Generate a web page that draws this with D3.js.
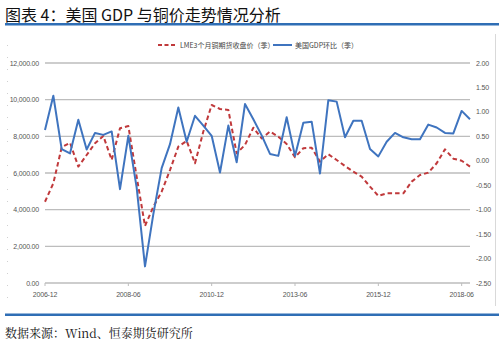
<!DOCTYPE html>
<html>
<head>
<meta charset="utf-8">
<script src="https://cdn.jsdelivr.net/npm/d3@7"></script>
<style>
html,body{margin:0;padding:0;background:#fff;}
svg{display:block;}
</style>
</head>
<body>
<svg id="chart" width="502" height="345"></svg>
<script>
// ---- data ----
const xTickLabels = ["2006-12","2008-06","2010-12","2013-06","2015-12","2018-06"];
const xTickIndex = [0,10,20,30,40,50];
const copperPrice = [4430,5440,7400,7650,6350,6980,7620,8020,6710,8440,8560,5800,3110,4160,4980,6160,
  7440,7750,6530,8260,9710,9490,9440,7070,7530,8470,7890,8260,7980,7580,6860,7350,7380,6620,7020,6710,
  6380,6070,5800,5260,4750,4890,4890,4890,5530,5890,6020,6530,7290,6780,6670,6350];
const usGdpQoQ = [0.63,1.33,0.24,0.15,0.84,0.23,0.57,0.53,0.60,-0.58,0.51,-0.55,-2.16,-1.09,-0.15,0.34,
  1.09,0.39,0.92,0.72,0.51,-0.24,0.72,-0.03,1.16,0.85,0.52,0.14,0.10,0.89,0.10,0.78,0.80,-0.26,1.24,1.21,
  0.48,0.82,0.82,0.24,0.09,0.39,0.57,0.48,0.44,0.44,0.74,0.68,0.57,0.56,1.02,0.85];
const leftTicks = [0,2000,4000,6000,8000,10000,12000];
const rightTicks = [2,1.5,1,0.5,0,-0.5,-1,-1.5,-2,-2.5];
const legendNames = ["LME3个月铜期货收盘价（季）","美国GDP环比（季）"];
const titleText = "图表 4：美国 GDP 与铜价走势情况分析";
const sourceText = "数据来源：Wind、恒泰期货研究所";

// ---- drawing ----
(function(){
const svg = d3.select("#chart");
const pLeft = 45, pRight = 470, pTop = 63, pBottom = 283;
const x = d3.scaleLinear().domain([0, copperPrice.length - 1]).range([pLeft, pRight]);
const yL = d3.scaleLinear().domain([0, 12000]).range([pBottom, pTop]);
const yR = d3.scaleLinear().domain([-2.5, 2]).range([pBottom, pTop]);
const axisFont = "Liberation Sans, Arial, sans-serif";
const red = "#C0393B", blue = "#3F74BF";

// title
svg.append("text").attr("x", 5).attr("y", 21)
  .attr("font-family", "Noto Sans CJK SC, sans-serif").attr("font-size", 16)
  .attr("fill", "#111").attr("xml:space", "preserve").style("white-space", "pre").text(titleText);
svg.append("rect").attr("x", 5).attr("y", 23).attr("width", 494).attr("height", 2.5).attr("fill", "#2F6EB5");

// frame lines
svg.append("line").attr("x1", 495.5).attr("x2", 495.5).attr("y1", 34).attr("y2", 306)
  .attr("stroke", "#d9d9d9").attr("stroke-width", 1);
svg.append("line").attr("x1", 7.5).attr("x2", 7.5).attr("y1", 45).attr("y2", 306)
  .attr("stroke", "#d0d0d0").attr("stroke-width", 1).attr("stroke-dasharray", "1,11");

// gridlines
svg.append("g").selectAll("line").data(leftTicks).join("line")
  .attr("x1", pLeft).attr("x2", pRight)
  .attr("y1", d => yL(d)).attr("y2", d => yL(d))
  .attr("stroke", "#BDBDBD").attr("stroke-width", 1.3);

// left axis labels
const fmtL = d3.format(",.2f");
svg.append("g").selectAll("text").data(leftTicks).join("text")
  .attr("x", 39).attr("y", d => yL(d) + 2.5).attr("text-anchor", "end")
  .attr("font-family", axisFont).attr("font-size", 7).attr("fill", "#555")
  .attr("letter-spacing", -0.2)
  .text(d => fmtL(d));

// right axis labels
const fmtR = d3.formatLocale({decimal: ".", thousands: ",", grouping: [3], currency: ["", ""], minus: "-"}).format(".2f");
svg.append("g").selectAll("text").data(rightTicks).join("text")
  .attr("x", 476).attr("y", d => yR(d) + 2.5).attr("text-anchor", "start")
  .attr("font-family", axisFont).attr("font-size", 7).attr("fill", "#555")
  .attr("letter-spacing", -0.2)
  .text(d => fmtR(d));

// x axis ticks & labels
svg.append("g").selectAll("line").data(xTickIndex).join("line")
  .attr("x1", d => x(d)).attr("x2", d => x(d))
  .attr("y1", pBottom).attr("y2", pBottom + 3)
  .attr("stroke", "#BDBDBD").attr("stroke-width", 1);
svg.append("g").selectAll("text").data(xTickIndex).join("text")
  .attr("x", d => x(d)).attr("y", pBottom + 14).attr("text-anchor", "middle")
  .attr("font-family", axisFont).attr("font-size", 7).attr("fill", "#555")
  .attr("letter-spacing", -0.2)
  .text((d, i) => xTickLabels[i]);

// lines
const lineL = d3.line().x((d, i) => x(i)).y(d => yL(d));
const lineR = d3.line().x((d, i) => x(i)).y(d => yR(d));
svg.append("path").datum(copperPrice).attr("d", lineL)
  .attr("fill", "none").attr("stroke", red).attr("stroke-width", 2)
  .attr("stroke-dasharray", "4.5,3").attr("stroke-linejoin", "round");
svg.append("path").datum(usGdpQoQ).attr("d", lineR)
  .attr("fill", "none").attr("stroke", blue).attr("stroke-width", 2)
  .attr("stroke-linejoin", "round");

// legend
const lg = svg.append("g").attr("font-family", "Noto Sans CJK SC, sans-serif").attr("font-size", 7).attr("fill", "#444");
lg.append("line").attr("x1", 158).attr("x2", 177).attr("y1", 45).attr("y2", 45)
  .attr("stroke", red).attr("stroke-width", 2).attr("stroke-dasharray", "4,2.5");
lg.append("text").attr("x", 180).attr("y", 47.5).text(legendNames[0]);
lg.append("line").attr("x1", 273).attr("x2", 292).attr("y1", 45).attr("y2", 45)
  .attr("stroke", blue).attr("stroke-width", 2);
lg.append("text").attr("x", 295).attr("y", 47.5).text(legendNames[1]);

// bottom rule & source
svg.append("rect").attr("x", 5).attr("y", 313.5).attr("width", 494).attr("height", 2.5).attr("fill", "#2F6EB5");
svg.append("text").attr("x", 5).attr("y", 338)
  .attr("font-family", "Noto Serif CJK SC, serif").attr("font-size", 12)
  .attr("fill", "#111").text(sourceText);
})();
</script>
</body>
</html>
